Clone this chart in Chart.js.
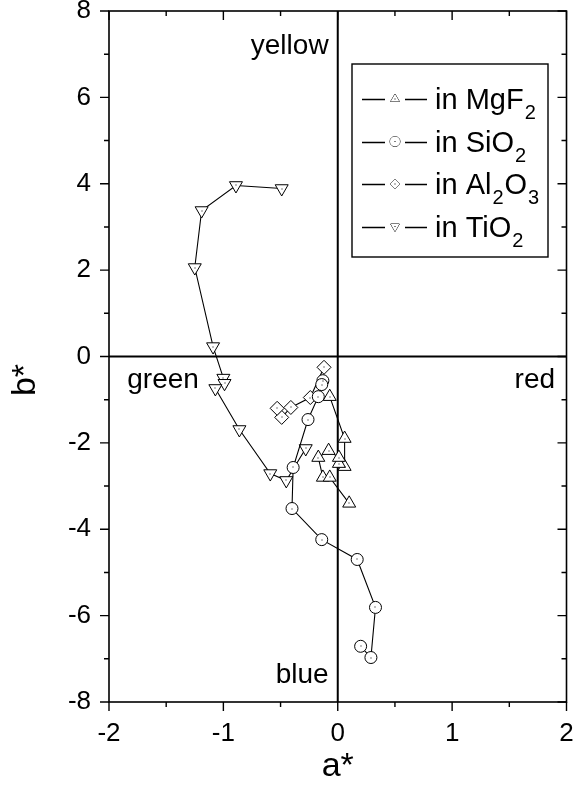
<!DOCTYPE html>
<html>
<head>
<meta charset="utf-8">
<script src="https://cdn.jsdelivr.net/npm/chart.js@4.4.1/dist/chart.umd.min.js"></script>
<style>
  html, body { margin: 0; padding: 0; background: #fff; }
  #wrap { width: 575px; height: 791px; }
</style>
</head>
<body>
<div id="wrap"><canvas id="mychart" width="575" height="791"></canvas></div>
<script>
// axis ticks
const xTicks = [-2, -1, 0, 1, 2];
const yTicks = [-8, -6, -4, -2, 0, 2, 4, 6, 8];

// colour coordinates (a*, b*) for each host
const mgf2A = [-0.07, 0.06, 0.06, 0.01, 0.01, -0.08, -0.17, -0.13, -0.07, 0.10];
const mgf2B = [-0.93, -1.90, -2.55, -2.48, -2.34, -2.18, -2.34, -2.80, -2.80, -3.40];

const sio2A = [-0.13, -0.14, -0.17, -0.26, -0.39, -0.40, -0.14, 0.17, 0.33, 0.29, 0.20];
const sio2B = [-0.56, -0.65, -0.93, -1.46, -2.57, -3.52, -4.24, -4.70, -5.81, -6.97, -6.71];

const al2o3A = [-0.12, -0.24, -0.41, -0.49, -0.53];
const al2o3B = [-0.25, -0.95, -1.18, -1.41, -1.20];

const tio2A = [-0.49, -0.89, -1.19, -1.25, -1.09, -1.00, -0.99, -1.07, -0.86, -0.59, -0.45, -0.28];
const tio2B = [3.89, 3.96, 3.38, 2.06, 0.23, -0.50, -0.62, -0.74, -1.69, -2.71, -2.87, -2.13];

const seriesNames = [["in MgF", "2"], ["in SiO", "2"], ["in Al", "2", "O", "3"], ["in TiO", "2"]];
const quadrantNames = ["yellow", "green", "red", "blue"];

const FONT = 'Arial, "Liberation Sans", sans-serif';

function pts(xs, ys) {
  return xs.map((x, i) => ({ x: x, y: ys[i] }));
}

function series(label, xs, ys, style, radius, rot) {
  return {
    label: label,
    data: pts(xs, ys),
    showLine: true,
    borderColor: "#000",
    borderWidth: 1.1,
    backgroundColor: "#fff",
    pointStyle: style,
    pointRadius: radius,
    pointRotation: rot || 0,
    pointBorderWidth: 1,
    pointBorderColor: "#000",
    pointBackgroundColor: "#fff"
  };
}

const datasets = [
  series("MgF2", mgf2A, mgf2B, "triangle", 7.5, 0),
  series("SiO2", sio2A, sio2B, "circle", 6, 0),
  series("Al2O3", al2o3A, al2o3B, "rectRot", 7, 0),
  series("TiO2", tio2A, tio2B, "triangle", 7.5, 180)
];

// zero lines go under the markers
const zeroLines = {
  id: "zeroLines",
  beforeDatasetsDraw(chart) {
    const { ctx, chartArea: ca, scales } = chart;
    const x0 = scales.x.getPixelForValue(0);
    const y0 = scales.y.getPixelForValue(0);
    ctx.save();
    ctx.strokeStyle = "#000";
    ctx.lineWidth = 2;
    ctx.beginPath();
    ctx.moveTo(x0, ca.top); ctx.lineTo(x0, ca.bottom);
    ctx.moveTo(ca.left, y0); ctx.lineTo(ca.right, y0);
    ctx.stroke();
    ctx.restore();
  }
};

// frame, major/minor ticks, dots, quadrant words, legend
const frame = {
  id: "frame",
  afterDatasetsDraw(chart) {
    const { ctx, chartArea: ca, scales } = chart;
    const sx = scales.x, sy = scales.y;
    ctx.save();

    // little centre dots in the markers
    ctx.fillStyle = "#000";
    chart.data.datasets.forEach((ds, i) => {
      chart.getDatasetMeta(i).data.forEach(p => {
        ctx.fillRect(Math.round(p.x) - 0.5, Math.round(p.y) - 0.5, 1, 1);
      });
    });

    ctx.strokeStyle = "#000";
    ctx.lineWidth = 1.6;
    ctx.strokeRect(ca.left, ca.top, ca.right - ca.left, ca.bottom - ca.top);

    ctx.lineWidth = 1.4;
    ctx.beginPath();
    for (let v = -2; v <= 2.001; v += 0.5) {
      const px = sx.getPixelForValue(v);
      const len = Number.isInteger(v) ? 9 : 5;
      ctx.moveTo(px, ca.bottom); ctx.lineTo(px, ca.bottom + len);
      ctx.moveTo(px, ca.top); ctx.lineTo(px, ca.top + len);
    }
    for (let v = -8; v <= 8; v += 1) {
      const py = sy.getPixelForValue(v);
      const len = v % 2 === 0 ? 9 : 5;
      ctx.moveTo(ca.left, py); ctx.lineTo(ca.left - len, py);
      ctx.moveTo(ca.right, py); ctx.lineTo(ca.right - len, py);
    }
    ctx.stroke();

    // quadrant words
    ctx.font = "28px " + FONT;
    ctx.textBaseline = "alphabetic";
    ctx.textAlign = "right";
    ctx.fillText(quadrantNames[0], sx.getPixelForValue(-0.08), sy.getPixelForValue(7.0));
    ctx.textAlign = "left";
    ctx.fillText(quadrantNames[1], sx.getPixelForValue(-1.84), sy.getPixelForValue(-0.72));
    ctx.textAlign = "right";
    ctx.fillText(quadrantNames[2], sx.getPixelForValue(1.90), sy.getPixelForValue(-0.72));
    ctx.fillText(quadrantNames[3], sx.getPixelForValue(-0.08), sy.getPixelForValue(-7.57));

    // axis titles
    ctx.font = "34px " + FONT;
    ctx.textAlign = "center";
    ctx.textBaseline = "middle";
    ctx.fillText("a*", (ca.left + ca.right) / 2, 767);
    ctx.save();
    ctx.translate(26, 380);
    ctx.rotate(-Math.PI / 2);
    ctx.fillText("b*", 0, 0);
    ctx.restore();

    // legend box
    const lx = 352, ly = 64, lw = 196, lh = 193;
    ctx.fillStyle = "#fff";
    ctx.fillRect(lx, ly, lw, lh);
    ctx.lineWidth = 1.4;
    ctx.strokeRect(lx, ly, lw, lh);
    ctx.fillStyle = "#000";
    chart.data.datasets.forEach((ds, i) => {
      const cy = 99 + i * 42.5;
      ctx.lineWidth = 1.3;
      ctx.beginPath();
      ctx.moveTo(362, Math.round(cy) + 0.5); ctx.lineTo(385, Math.round(cy) + 0.5);
      ctx.moveTo(405, Math.round(cy) + 0.5); ctx.lineTo(427, Math.round(cy) + 0.5);
      ctx.stroke();
      ctx.fillStyle = "#fff";
      ctx.lineWidth = 1;
      Chart.helpers.drawPoint(ctx, {
        pointStyle: ds.pointStyle, radius: 5, rotation: ds.pointRotation, borderWidth: 1
      }, 395, cy);
      ctx.fill();
      ctx.fillStyle = "#000";
      ctx.fillRect(394.5, cy - 0.5, 1, 1);

      // text with subscripts
      let tx = 435;
      ctx.textAlign = "left";
      ctx.textBaseline = "alphabetic";
      seriesNames[i].forEach((part, k) => {
        const sub = k % 2 === 1;
        ctx.font = (sub ? "20px " : "29px ") + FONT;
        ctx.fillText(part, tx, cy + (sub ? 20 : 10));
        tx += ctx.measureText(part).width + 1;
      });
    });

    ctx.restore();
  }
};

const config = {
  type: "scatter",
  data: { datasets: datasets },
  options: {
    responsive: false,
    animation: false,
    layout: { padding: { left: 0, right: 8, top: 11, bottom: 0 } },
    plugins: { legend: { display: false }, tooltip: { enabled: false } },
    scales: {
      x: {
        type: "linear",
        min: -2, max: 2,
        afterBuildTicks: s => { s.ticks = xTicks.map(v => ({ value: v })); },
        afterFit: s => { s.height = 89; s.paddingLeft = 0; s.paddingRight = 0; },
        grid: { display: false, drawTicks: false },
        border: { display: false },
        ticks: { color: "#000", font: { size: 26, family: FONT }, padding: 16, maxRotation: 0 }
      },
      y: {
        type: "linear",
        min: -8, max: 8,
        afterBuildTicks: s => { s.ticks = yTicks.map(v => ({ value: v })); },
        afterFit: s => { s.width = 109; s.paddingTop = 0; s.paddingBottom = 0; },
        grid: { display: false, drawTicks: false },
        border: { display: false },
        ticks: { color: "#000", font: { size: 26, family: FONT }, padding: 18 }
      }
    }
  },
  plugins: [zeroLines, frame]
};

const mychart = new Chart(document.getElementById("mychart").getContext("2d"), config);
</script>
</body>
</html>
